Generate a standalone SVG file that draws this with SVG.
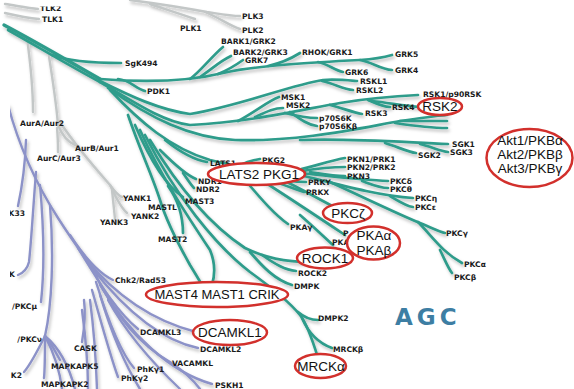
<svg xmlns="http://www.w3.org/2000/svg" width="574" height="389" viewBox="0 0 574 389">
<defs>
<style>
.t{font-family:"DejaVu Sans",Verdana,sans-serif;font-weight:bold;font-size:7.6px;fill:#1a1a1a}
.tr{text-anchor:end}
.e{fill:#fff;stroke:#d2302c;stroke-width:2.5}
.et{font-family:"Liberation Sans",Arial,sans-serif;font-size:13.5px;fill:#111;text-anchor:middle}
.tl path{fill:none;stroke:#2f9c8b;stroke-width:2.7;stroke-linecap:round}
.gr path{fill:none;stroke:#c3c7c7;stroke-width:2.4;stroke-linecap:round}
.lv path{fill:none;stroke:#8c92c8;stroke-width:2.4;stroke-linecap:round}
</style>
<filter id="sh" x="-5%" y="-5%" width="110%" height="115%">
<feDropShadow dx="1.5" dy="2.5" stdDeviation="1.7" flood-color="#000" flood-opacity="0.25"/>
</filter>
</defs>
<rect width="574" height="389" fill="#fff"/>
<g id="connectors" filter="url(#sh)">
<g class="gr">
<path d="M5,4 C18,6 28,8 38,9"/>
<path d="M5,13 C18,16 28,18 39,19"/>
<path d="M130,0 C160,4 185,8 207,12 C220,14 230,16 240,16"/>
<path d="M205,12 C218,17 230,26 240,29"/>
<path d="M150,4 C165,9 178,13 195,19"/>
<path d="M27,38 C30,60 33,85 33,112"/>
<path d="M48,50 C52,75 56,100 58,125"/>
<path d="M58,125 C62,135 68,142 75,145"/>
<path d="M57,128 C58,138 58,146 58,152"/>
<path d="M60,122 C75,145 95,168 110,185 C115,192 119,196 122,197"/>
<path d="M110,185 C116,198 121,208 127,213"/>
<path d="M112,190 C113,200 114,210 115,219"/>
</g>
<g class="lv">
<path d="M8,105 C20,150 40,190 58,218 C72,240 85,258 98,276"/>
<path d="M26,140 C25,170 21,192 18,206"/>
<path d="M36,172 C33,210 31,245 29,262 C27,270 23,273 18,275"/>
<path d="M40,185 C44,230 44,275 41,302"/>
<path d="M50,205 C54,255 52,305 45,336"/>
<path d="M45,336 C52,345 56,352 60,360"/>
<path d="M45,336 C45,355 45,368 44,378"/>
<path d="M45,336 C38,350 30,365 24,372"/>
<path d="M45,336 C55,355 60,372 62,389"/>
<path d="M45,336 C62,350 70,370 75,389"/>
<path d="M70,235 C85,258 100,274 113,280"/>
<path d="M78,248 C98,280 115,310 138,329"/>
<path d="M85,258 C115,295 150,320 196,332"/>
<path d="M92,268 C125,310 160,340 198,348"/>
<path d="M96,276 C115,315 140,345 170,362"/>
<path d="M100,285 C130,335 170,372 212,384"/>
<path d="M96,282 C108,320 120,352 134,368"/>
<path d="M92,290 C102,325 110,355 118,377"/>
<path d="M84,300 C86,315 84,330 82,342"/>
<path d="M90,300 C94,330 96,360 97,389"/>
<path d="M82,310 C86,340 88,365 88,389"/>
<path d="M100,295 C112,335 125,365 140,389"/>
<path d="M108,300 C130,340 160,370 180,389"/>
<path d="M170,362 C182,370 192,378 200,389"/>
</g>
<g class="tl">
<path d="M4,25 C40,44 70,62 100,79" style="stroke-width:3.4"/>
<path d="M8,30 C40,48 70,66 100,82"/>
<path d="M100,79 C150,83 190,81 223,73 C260,65 320,62 360,60 C375,59 385,57 392,55"/>
<path d="M360,60 C372,62 380,69 392,70"/>
<path d="M318,62 C328,64 334,70 343,72"/>
<path d="M268,66 C282,63 292,58 300,53"/>
<path d="M218,74 C228,70 236,65 243,60"/>
<path d="M190,79 C200,72 212,56 223,47"/>
<path d="M200,77 C212,69 220,61 231,56"/>
<path d="M52,55 C70,62 95,63 121,63"/>
<path d="M118,79 C130,80 135,88 145,91"/>
<path d="M100,81 C130,96 160,110 190,114 C240,106 290,85 323,80 C335,79 345,80 357,81"/>
<path d="M322,81 C335,84 343,89 353,90"/>
<path d="M100,82 C140,106 165,122 190,125 C250,122 300,110 340,103 C370,98 395,96 418,95"/>
<path d="M368,100 C377,104 383,107 390,107"/>
<path d="M372,101 C390,103 405,106 420,107"/>
<path d="M330,105 C342,108 352,112 362,114"/>
<path d="M238,121 C255,112 268,101 279,97"/>
<path d="M255,117 C266,112 274,108 283,108"/>
<path d="M285,113 C297,116 307,118 317,118"/>
<path d="M290,112 C300,119 308,125 317,126"/>
<path d="M108,88 C150,118 190,138 235,140 C300,142 360,128 400,121 C420,118 435,116 447,115"/>
<path d="M400,121 C420,121 435,121 447,121"/>
<path d="M395,123 C415,126 432,128 447,128"/>
<path d="M300,140 C350,138 400,142 448,144"/>
<path d="M385,143 C398,147 408,152 416,153"/>
<path d="M420,144 C432,147 440,151 448,152"/>
<path d="M110,90 C140,122 170,148 210,160 C240,168 280,171 305,172"/>
<path d="M298,170 C318,165 333,160 345,158"/>
<path d="M302,171 C320,168 333,167 345,167"/>
<path d="M310,172 C323,174 333,176 345,176"/>
<path d="M300,173 C330,176 360,180 388,181"/>
<path d="M362,181 C373,185 380,188 388,188"/>
<path d="M300,175 C340,185 380,196 413,198"/>
<path d="M390,196 C400,202 406,206 413,207"/>
<path d="M330,182 C365,198 400,215 420,223 C432,228 440,232 445,233"/>
<path d="M418,222 C432,236 442,252 462,263"/>
<path d="M440,250 C445,260 448,268 452,273"/>
<path d="M165,140 C180,152 195,160 207,162"/>
<path d="M235,168 C245,162 252,160 260,159"/>
<path d="M160,150 C175,165 186,175 196,179"/>
<path d="M183,173 C188,180 191,185 194,188"/>
<path d="M135,125 C150,160 165,185 183,197"/>
<path d="M128,115 C140,150 152,175 160,200 C166,220 176,240 190,265 C198,278 202,285 205,290"/>
<path d="M168,186 C178,200 183,215 183,233"/>
<path d="M140,130 C160,175 190,220 210,250 C215,262 215,275 212,285"/>
<path d="M262,176 C280,180 292,182 306,182"/>
<path d="M275,182 C288,186 296,190 304,192"/>
<path d="M245,180 C262,200 275,215 288,224"/>
<path d="M255,176 C285,195 315,215 345,235"/>
<path d="M300,215 C315,228 325,238 333,245"/>
<path d="M270,174 C295,185 320,200 340,210"/>
<path d="M150,140 C180,190 210,225 245,248 C265,258 285,262 310,262"/>
<path d="M262,255 C275,264 285,270 296,271"/>
<path d="M250,252 C262,266 275,280 292,285"/>
<path d="M145,135 C175,195 215,245 250,272 C275,290 292,305 300,315 C308,325 314,345 318,358"/>
<path d="M298,312 C305,318 311,320 318,320"/>
<path d="M302,318 C308,332 318,343 332,348"/>
</g>
</g>
<g id="labels">
<g id="n-TLK2"><text class="t" x="40" y="10.5">TLK2</text></g>
<g id="n-TLK1"><text class="t" x="42" y="22">TLK1</text></g>
<g id="n-PLK1"><text class="t" x="180" y="31">PLK1</text></g>
<g id="n-PLK3"><text class="t" x="242" y="19">PLK3</text></g>
<g id="n-PLK2"><text class="t" x="242" y="33">PLK2</text></g>
<g id="n-SgK494"><text class="t" x="125" y="66">SgK494</text></g>
<g id="n-PDK1"><text class="t" x="147" y="94">PDK1</text></g>
<g id="n-BARK1"><text class="t" x="221" y="44">BARK1/GRK2</text></g>
<g id="n-BARK2"><text class="t" x="233" y="55">BARK2/GRK3</text></g>
<g id="n-GRK7"><text class="t" x="245" y="63">GRK7</text></g>
<g id="n-RHOK"><text class="t" x="302" y="55">RHOK/GRK1</text></g>
<g id="n-GRK6"><text class="t" x="345" y="75">GRK6</text></g>
<g id="n-RSKL1"><text class="t" x="360" y="84">RSKL1</text></g>
<g id="n-RSKL2"><text class="t" x="356" y="93">RSKL2</text></g>
<g id="n-GRK5"><text class="t" x="395" y="57">GRK5</text></g>
<g id="n-GRK4"><text class="t" x="395" y="73">GRK4</text></g>
<g id="n-MSK1"><text class="t" x="281" y="99.5">MSK1</text></g>
<g id="n-MSK2"><text class="t" x="286" y="107.5">MSK2</text></g>
<g id="n-p70S6K"><text class="t" x="319" y="121">p70S6K</text></g>
<g id="n-p70S6Kb"><text class="t" x="319" y="129">p70S6Kβ</text></g>
<g id="n-RSK3"><text class="t" x="365" y="116">RSK3</text></g>
<g id="n-RSK4"><text class="t" x="392" y="110">RSK4</text></g>
<g id="n-RSK1"><text class="t" x="423" y="97">RSK1/p90RSK</text></g>
<g id="n-SGK1"><text class="t" x="452" y="147">SGK1</text></g>
<g id="n-SGK3"><text class="t" x="450" y="155">SGK3</text></g>
<g id="n-SGK2"><text class="t" x="418" y="158">SGK2</text></g>
<g id="n-PKN1"><text class="t" x="347" y="162">PKN1/PRK1</text></g>
<g id="n-PKN2"><text class="t" x="347" y="170">PKN2/PRK2</text></g>
<g id="n-PKN3"><text class="t" x="347" y="179">PKN3</text></g>
<g id="n-PKCd"><text class="t" x="390" y="184">PKCδ</text></g>
<g id="n-PKCth"><text class="t" x="390" y="192">PKCθ</text></g>
<g id="n-PKCeta"><text class="t" x="415" y="201">PKCη</text></g>
<g id="n-PKCeps"><text class="t" x="415" y="210">PKCε</text></g>
<g id="n-PKCg"><text class="t" x="446" y="236">PKCγ</text></g>
<g id="n-PKCa"><text class="t" x="464" y="267">PKCα</text></g>
<g id="n-PKCb"><text class="t" x="454" y="280">PKCβ</text></g>
<g id="n-PKG2"><text class="t" x="262" y="163">PKG2</text></g>
<g id="n-LATS1"><text class="t" x="210" y="166">LATS1</text></g>
<g id="n-NDR1"><text class="t" x="198" y="183.5">NDR1</text></g>
<g id="n-NDR2"><text class="t" x="196" y="191.5">NDR2</text></g>
<g id="n-MAST3"><text class="t" x="185" y="203.5">MAST3</text></g>
<g id="n-MASTL"><text class="t" x="148" y="210">MASTL</text></g>
<g id="n-MAST2"><text class="t" x="158" y="242">MAST2</text></g>
<g id="n-YANK1"><text class="t" x="123" y="201">YANK1</text></g>
<g id="n-YANK2"><text class="t" x="131" y="219">YANK2</text></g>
<g id="n-YANK3"><text class="t" x="100" y="225">YANK3</text></g>
<g id="n-AurA"><text class="t" x="20" y="126">AurA/Aur2</text></g>
<g id="n-AurB"><text class="t" x="75" y="151">AurB/Aur1</text></g>
<g id="n-AurC"><text class="t" x="37" y="161">AurC/Aur3</text></g>
<g id="n-PRKY"><text class="t" x="308" y="185">PRKY</text></g>
<g id="n-PRKX"><text class="t" x="306" y="195">PRKX</text></g>
<g id="n-PKAg"><text class="t" x="290" y="230">PKAγ</text></g>
<g id="n-PKAa-s"><text class="t" x="343" y="236">P</text></g>
<g id="n-PKAb-s"><text class="t" x="332" y="245">PKA</text></g>
<g id="n-ROCK2"><text class="t" x="298" y="276">ROCK2</text></g>
<g id="n-DMPK"><text class="t" x="294" y="289">DMPK</text></g>
<g id="n-DMPK2"><text class="t" x="318" y="321">DMPK2</text></g>
<g id="n-MRCKb"><text class="t" x="333" y="352">MRCKβ</text></g>
<g id="n-Chk2"><text class="t" x="115" y="283">Chk2/Rad53</text></g>
<g id="n-DCAMKL3"><text class="t" x="140" y="335">DCAMKL3</text></g>
<g id="n-DCAMKL2"><text class="t" x="200" y="352">DCAMKL2</text></g>
<g id="n-VACAMKL"><text class="t" x="172" y="366">VACAMKL</text></g>
<g id="n-PSKH1"><text class="t" x="215" y="388">PSKH1</text></g>
<g id="n-CASK"><text class="t" x="74" y="351">CASK</text></g>
<g id="n-MAPKAPK5"><text class="t" x="51" y="369">MAPKAPK5</text></g>
<g id="n-MAPKAPK2"><text class="t" x="41" y="387">MAPKAPK2</text></g>
<g id="n-PhKg1"><text class="t" x="137" y="372">PhKγ1</text></g>
<g id="n-PhKg2"><text class="t" x="121" y="381">PhKγ2</text></g>
<g id="n-K33"><text class="t tr" x="25" y="216">K33</text></g>
<g id="n-K"><text class="t tr" x="15" y="277">K</text></g>
<g id="n-PKCmu"><text class="t tr" x="37" y="309">/PKCμ</text></g>
<g id="n-PKCnu"><text class="t tr" x="42" y="342">/PKCν</text></g>
<g id="n-K2"><text class="t tr" x="22" y="378">K2</text></g>
</g>
<rect x="36" y="0" width="34" height="6.5" fill="#fff"/>
<rect x="0" y="100" width="10" height="289" fill="#fff"/>
<g id="n-RSK2"><ellipse class="e" cx="440" cy="106.5" rx="22" ry="8.5"/><text class="et" x="440" y="111.4">RSK2</text></g>
<g id="n-Akt"><ellipse class="e" cx="529.5" cy="158" rx="43" ry="29"/><text class="et" x="530" y="145">Akt1/PKBα</text><text class="et" x="530" y="159">Akt2/PKBβ</text><text class="et" x="530" y="173">Akt3/PKBγ</text></g>
<g id="n-LATS2PKG1"><ellipse class="e" cx="256.5" cy="174" rx="48.5" ry="11"/><text class="et" x="259" y="178.8">LATS2 PKG1</text></g>
<g id="n-PKCz"><ellipse class="e" cx="347.5" cy="213" rx="24.5" ry="10"/><text class="et" x="348" y="217.8">PKCζ</text></g>
<g id="n-PKA"><ellipse class="e" cx="373.5" cy="243" rx="26.5" ry="16.5"/><text class="et" x="374" y="240">PKAα</text><text class="et" x="374" y="255">PKAβ</text></g>
<g id="n-ROCK1"><ellipse class="e" cx="325" cy="258" rx="28" ry="10.5"/><text class="et" x="325" y="262.8">ROCK1</text></g>
<g id="n-MAST4"><ellipse class="e" cx="217" cy="294.5" rx="71" ry="12.5"/><text class="et" x="217" y="299.3" style="font-size:13px">MAST4 MAST1 CRIK</text></g>
<g id="n-DCAMKL1"><ellipse class="e" cx="230" cy="332.5" rx="37" ry="12.5"/><text class="et" x="230" y="337.4">DCAMKL1</text></g>
<g id="n-MRCKa"><ellipse class="e" cx="320.5" cy="366" rx="25.5" ry="12"/><text class="et" x="321" y="370.9">MRCKα</text></g>
<g id="n-AGC"><text x="395" y="325" style="font-family:'DejaVu Sans',Verdana,sans-serif;font-weight:bold;font-size:23px;letter-spacing:4px;fill:#3d7ea3">AGC</text></g>
</svg>
